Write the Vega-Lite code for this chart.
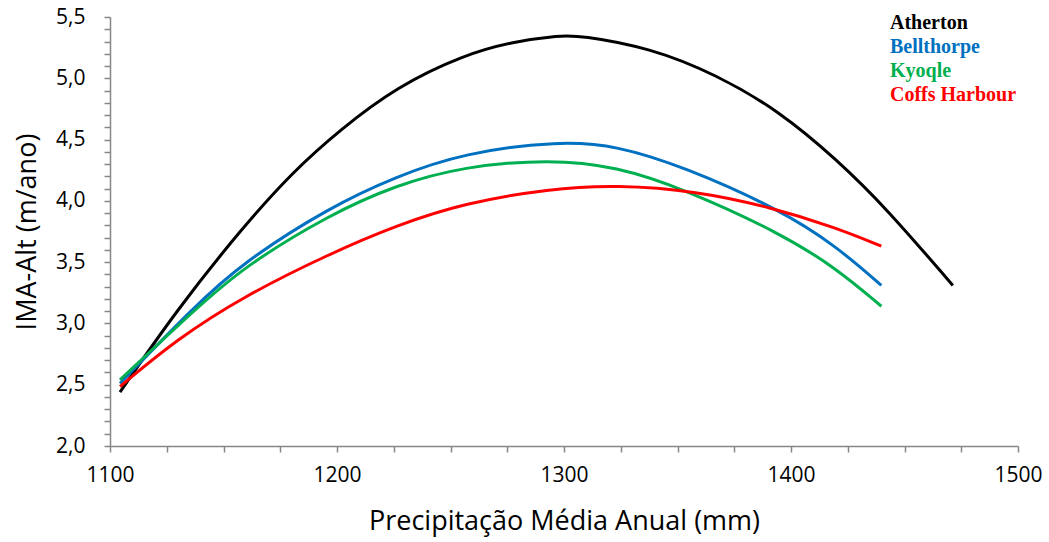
{
  "$schema": "https://vega.github.io/schema/vega-lite/v6.json",
  "width": 908,
  "height": 429,
  "autosize": {"type": "none"},
  "padding": {"left": 110, "top": 17, "right": 31, "bottom": 96},
  "config": {
    "view": {"stroke": null},
    "font": "Open Sans",
    "axis": {
      "domainColor": "#868686",
      "domainWidth": 1.5,
      "tickColor": "#868686",
      "tickWidth": 1.5,
      "tickSize": 6,
      "labelColor": "#000000",
      "titleColor": "#000000",
      "labelFont": "Open Sans",
      "titleFont": "Open Sans",
      "labelFontSize": 21,
      "titleFontSize": 27,
      "titleFontWeight": "normal",
      "grid": false,
      "labelOverlap": false,
      "labelFlush": false
    }
  },
  "data": {
    "values": [
      {"site": "Atherton", "x": 1104.4, "y": 2.44},
      {"site": "Atherton", "x": 1129.4, "y": 3.11},
      {"site": "Atherton", "x": 1158.7, "y": 3.79},
      {"site": "Atherton", "x": 1180.7, "y": 4.24},
      {"site": "Atherton", "x": 1201.3, "y": 4.58},
      {"site": "Atherton", "x": 1226.2, "y": 4.93},
      {"site": "Atherton", "x": 1255.6, "y": 5.19},
      {"site": "Atherton", "x": 1277.7, "y": 5.30},
      {"site": "Atherton", "x": 1298.2, "y": 5.35},
      {"site": "Atherton", "x": 1307.0, "y": 5.35},
      {"site": "Atherton", "x": 1337.8, "y": 5.25},
      {"site": "Atherton", "x": 1367.2, "y": 5.03},
      {"site": "Atherton", "x": 1395.0, "y": 4.73},
      {"site": "Atherton", "x": 1420.0, "y": 4.34},
      {"site": "Atherton", "x": 1442.0, "y": 3.94},
      {"site": "Atherton", "x": 1471.3, "y": 3.31},
      {"site": "Bellthorpe", "x": 1104.4, "y": 2.51},
      {"site": "Bellthorpe", "x": 1136.7, "y": 3.13},
      {"site": "Bellthorpe", "x": 1158.7, "y": 3.50},
      {"site": "Bellthorpe", "x": 1196.9, "y": 3.95},
      {"site": "Bellthorpe", "x": 1226.2, "y": 4.20},
      {"site": "Bellthorpe", "x": 1255.6, "y": 4.39},
      {"site": "Bellthorpe", "x": 1298.2, "y": 4.49},
      {"site": "Bellthorpe", "x": 1323.2, "y": 4.45},
      {"site": "Bellthorpe", "x": 1352.5, "y": 4.28},
      {"site": "Bellthorpe", "x": 1395.0, "y": 3.93},
      {"site": "Bellthorpe", "x": 1420.0, "y": 3.63},
      {"site": "Bellthorpe", "x": 1439.8, "y": 3.31},
      {"site": "Kyoqle", "x": 1104.4, "y": 2.54},
      {"site": "Kyoqle", "x": 1136.7, "y": 3.10},
      {"site": "Kyoqle", "x": 1158.7, "y": 3.46},
      {"site": "Kyoqle", "x": 1196.9, "y": 3.89},
      {"site": "Kyoqle", "x": 1226.2, "y": 4.13},
      {"site": "Kyoqle", "x": 1255.6, "y": 4.28},
      {"site": "Kyoqle", "x": 1293.8, "y": 4.34},
      {"site": "Kyoqle", "x": 1323.2, "y": 4.28},
      {"site": "Kyoqle", "x": 1352.5, "y": 4.10},
      {"site": "Kyoqle", "x": 1395.0, "y": 3.74},
      {"site": "Kyoqle", "x": 1420.0, "y": 3.45},
      {"site": "Kyoqle", "x": 1439.8, "y": 3.14},
      {"site": "Coffs Harbour", "x": 1104.4, "y": 2.485},
      {"site": "Coffs Harbour", "x": 1129.4, "y": 2.87},
      {"site": "Coffs Harbour", "x": 1158.7, "y": 3.22},
      {"site": "Coffs Harbour", "x": 1196.9, "y": 3.57},
      {"site": "Coffs Harbour", "x": 1226.2, "y": 3.80},
      {"site": "Coffs Harbour", "x": 1255.6, "y": 3.98},
      {"site": "Coffs Harbour", "x": 1293.8, "y": 4.10},
      {"site": "Coffs Harbour", "x": 1323.2, "y": 4.13},
      {"site": "Coffs Harbour", "x": 1358.4, "y": 4.08},
      {"site": "Coffs Harbour", "x": 1390.7, "y": 3.95},
      {"site": "Coffs Harbour", "x": 1420.0, "y": 3.78},
      {"site": "Coffs Harbour", "x": 1439.8, "y": 3.63}
    ]
  },
  "mark": {"type": "line", "strokeWidth": 3, "interpolate": "basis"},
  "encoding": {
    "x": {
      "field": "x",
      "type": "quantitative",
      "scale": {"domain": [1100, 1500], "nice": false, "zero": false},
      "axis": {
        "title": "Precipitação Média Anual (mm)",
        "values": [1100, 1125, 1150, 1175, 1200, 1225, 1250, 1275, 1300, 1325, 1350, 1375, 1400, 1425, 1450, 1475, 1500],
        "labelExpr": "datum.value % 100 == 0 ? format(datum.value, 'd') : ''",
        "labelPadding": 12,
        "titlePadding": 23
      }
    },
    "y": {
      "field": "y",
      "type": "quantitative",
      "scale": {"domain": [2, 5.5], "nice": false, "zero": false},
      "axis": {
        "title": "IMA-Alt (m/ano)",
        "values": [2.0, 2.1, 2.2, 2.3, 2.4, 2.5, 2.6, 2.7, 2.8, 2.9, 3.0, 3.1, 3.2, 3.3, 3.4, 3.5, 3.6, 3.7, 3.8, 3.9, 4.0, 4.1, 4.2, 4.3, 4.4, 4.5, 4.6, 4.7, 4.8, 4.9, 5.0, 5.1, 5.2, 5.3, 5.4, 5.5],
        "labelExpr": "abs(datum.value * 2 - round(datum.value * 2)) < 0.01 ? replace(format(datum.value, '.1f'), '.', ',') : ''",
        "labelPadding": 19,
        "titlePadding": 14
      }
    },
    "color": {
      "field": "site",
      "type": "nominal",
      "scale": {
        "domain": ["Atherton", "Bellthorpe", "Kyoqle", "Coffs Harbour"],
        "range": ["#000000", "#0070C0", "#00B050", "#FF0000"]
      },
      "legend": {
        "title": null,
        "orient": "none",
        "legendX": 760,
        "legendY": -4,
        "symbolSize": 0,
        "symbolOpacity": 0,
        "symbolStrokeWidth": 0,
        "labelOffset": 0,
        "labelFont": "Liberation Serif",
        "labelFontWeight": "bold",
        "labelFontSize": 20,
        "rowPadding": 4,
        "labelLimit": 300,
        "encode": {
          "labels": {"update": {"fill": {"scale": "color", "field": "value"}}}
        }
      }
    }
  }
}
